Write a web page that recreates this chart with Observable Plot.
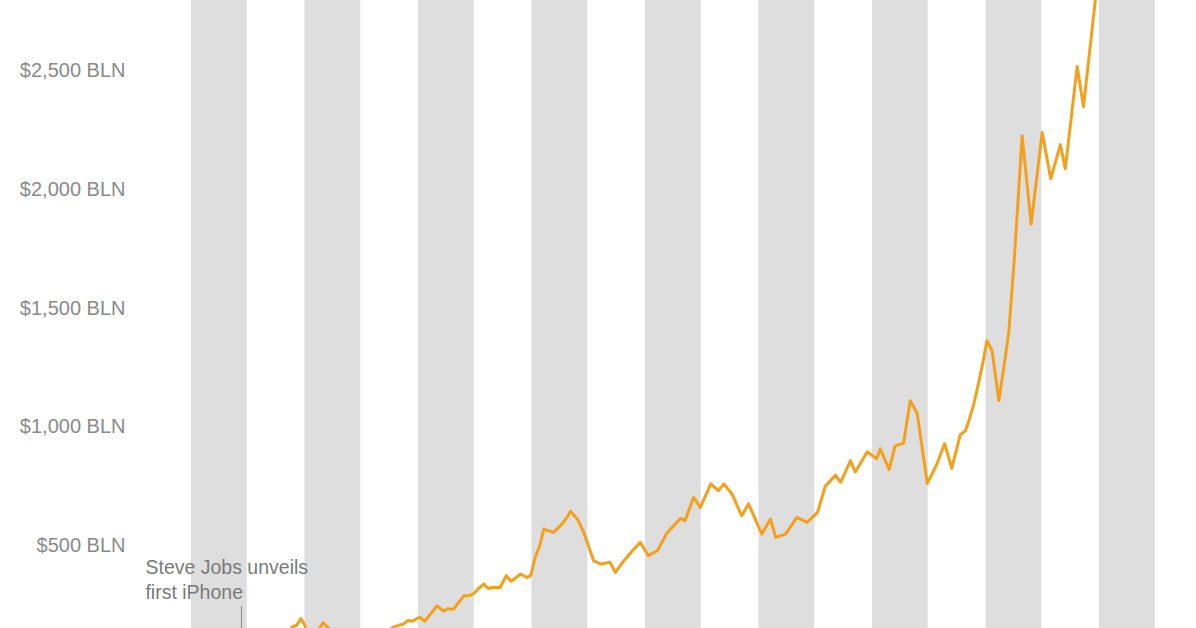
<!DOCTYPE html>
<html>
<head>
<meta charset="utf-8">
<script src="https://cdn.jsdelivr.net/npm/d3@7"></script>
<script src="https://cdn.jsdelivr.net/npm/@observablehq/plot@0.6"></script>
<style>
  html, body { margin: 0; padding: 0; background: #fff; overflow: hidden; }
  #chart svg { display: block; overflow: hidden; }
</style>
</head>
<body>
<div id="chart"></div>
<script>
// Apple market capitalisation, billions of US dollars
const dates = [
  "2006-01-15","2006-04-15","2006-07-15","2006-10-15",
  "2007-01-15","2007-04-15","2007-06-15","2007-08-15","2007-10-15","2007-11-10","2007-12-05","2007-12-28",
  "2008-01-22","2008-03-01","2008-03-25","2008-04-28","2008-06-05","2008-07-15","2008-08-15","2008-09-20","2008-10-20","2008-11-20",
  "2009-01-20","2009-03-10","2009-04-15","2009-05-15","2009-06-15","2009-07-05","2009-07-25","2009-08-25","2009-09-25","2009-10-25","2009-11-25","2009-12-25",
  "2010-01-13","2010-02-10","2010-03-10","2010-04-10","2010-05-01","2010-06-10","2010-07-10","2010-08-15","2010-09-15","2010-10-20","2010-11-25","2010-12-25",
  "2011-01-15","2011-02-25","2011-03-25","2011-04-25","2011-06-10","2011-07-20","2011-08-20","2011-09-20","2011-10-20","2011-11-30","2011-12-25",
  "2012-01-22","2012-02-20","2012-03-18","2012-05-18","2012-07-12","2012-08-15","2012-09-05","2012-10-20","2012-11-30",
  "2013-02-01","2013-03-18","2013-05-18","2013-06-20","2013-08-15","2013-10-10","2013-11-28",
  "2014-01-20","2014-03-18","2014-05-18","2014-08-15","2014-09-12","2014-11-06","2014-12-20",
  "2015-02-25","2015-04-15","2015-05-20","2015-07-10","2015-09-12","2015-10-26",
  "2016-01-20","2016-03-15","2016-04-18","2016-06-20","2016-09-01","2016-11-06",
  "2017-01-12","2017-03-03","2017-05-08","2017-06-10","2017-08-12","2017-09-12","2017-11-28",
  "2018-01-28","2018-02-20","2018-04-18","2018-05-26","2018-07-20","2018-09-01","2018-10-15","2018-12-20",
  "2019-02-20","2019-04-10","2019-05-26","2019-07-20","2019-08-22","2019-09-13","2019-10-14","2019-11-20","2019-12-15",
  "2020-01-08","2020-02-10","2020-03-24","2020-04-25","2020-05-27","2020-07-01","2020-08-21","2020-10-18","2020-12-28",
  "2021-02-21","2021-04-24","2021-05-26","2021-08-10","2021-09-20","2021-12-05","2022-01-03"
];
const marketCap = [
  65, 58, 52, 68,
  75, 82, 105, 118, 160, 165, 193, 170,
  125, 110, 145, 176, 150, 135, 140, 115, 90, 75,
  78, 80, 110, 120, 135, 150, 157, 165, 170, 185, 183, 195,
  198, 182, 205, 230, 247, 225, 235, 233, 260, 289, 290, 300,
  315, 339, 320, 325, 324, 374, 350, 365, 381, 366, 375,
  451, 500, 570, 556, 591, 620, 645, 612, 556,
  437, 423, 430, 388, 437, 480, 514,
  458, 479, 552, 615, 605, 703, 661,
  760, 732, 760, 720, 626, 676,
  549, 612, 535, 549, 619, 598,
  640, 750, 797, 767, 858, 810, 895,
  866, 908, 820, 920, 932, 1110, 1058, 762,
  844, 930, 826, 967, 984, 1026, 1094, 1200, 1280,
  1363, 1320, 1110, 1250, 1397, 1700, 2225, 1854, 2239,
  2044, 2188, 2086, 2517, 2348, 2795, 2950
];

// Alternate shaded years
const shadedYears = [2006, 2008, 2010, 2012, 2014, 2016, 2018, 2020, 2022];

// Y-axis ticks
const yTicks = [500, 1000, 1500, 2000, 2500];

// Annotation
const noteDates = ["2007-01-09"];
const noteTexts = ["Steve Jobs unveils\nfirst iPhone"];

const series = dates.map((d, i) => ({date: new Date(d), value: marketCap[i]}));
const notes = noteDates.map((d, i) => ({date: new Date(d), text: noteTexts[i]}));

const chart = Plot.plot({
  width: 1196,
  height: 628,
  margin: 0,
  style: {fontFamily: "'Liberation Sans', Arial, Helvetica, sans-serif", background: "#fff", overflow: "hidden"},
  x: {type: "utc", axis: null, domain: [new Date("2006-01-01"), new Date("2022-01-01")], range: [191, 1099]},
  y: {axis: null, domain: [0, 2500], range: [664, 70]},
  marks: [
    Plot.rect(shadedYears, {
      x1: d => new Date(Date.UTC(d, 0, 1)),
      x2: d => new Date(Date.UTC(d + 1, 0, 1)),
      fill: "#dedede",
      insetRight: 1
    }),
    Plot.axisY({
      ticks: yTicks,
      anchor: "left",
      tickSize: 0,
      tickPadding: 0,
      dx: 125,
      fontSize: 20,
      fill: "#8a8a8a",
      label: null,
      tickFormat: d => `$${d3.format(",")(d)} BLN`
    }),
    Plot.ruleX(notes, {x: "date", dx: -8, insetTop: 606, stroke: "#8a8a8a", strokeWidth: 1}),
    Plot.text(notes, {
      x: "date",
      text: "text",
      frameAnchor: "bottom",
      textAnchor: "start",
      lineAnchor: "middle",
      lineHeight: 1.3,
      dx: -104,
      dy: -50,
      fontSize: 19.5,
      fill: "#7a7a7a"
    }),
    Plot.line(series, {
      x: "date",
      y: "value",
      stroke: "#f5a01d",
      strokeWidth: 3,
      strokeLinejoin: "round",
      strokeLinecap: "round",
      clip: true
    })
  ]
});
document.getElementById("chart").appendChild(chart);
</script>
</body>
</html>
